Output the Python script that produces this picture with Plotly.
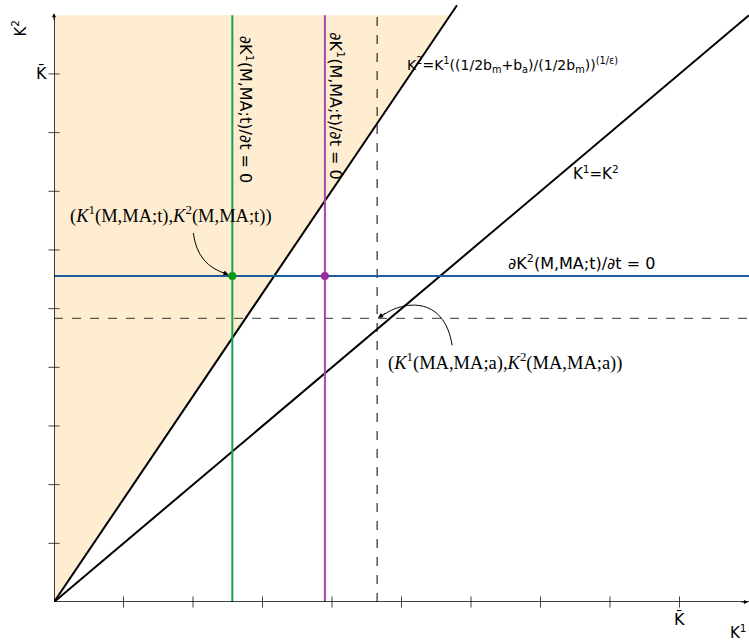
import plotly.graph_objects as go

# ---------------- data ----------------
axis_max = 10.0            # end of both axes (arrow tips)
k_bar = 9                  # position of K-bar on both axes
tick_values = [1, 2, 3, 4, 5, 6, 7, 8, 9]
steep_slope = 1.754        # K2 = K1 * ((1/2bm+ba)/(1/2bm))^(1/eps)
steep_top = 10.17          # the steep line runs off the top
diag_slope = 1.0           # K1 = K2
k1_t_green = 2.566         # dK1(M,MA;t)/dt = 0  (green)
k1_t_purple = 3.898        # dK1(M,MA;t)/dt = 0  (purple)
k2_t = 5.556               # dK2(M,MA;t)/dt = 0  (blue)
k1_a = 4.649               # K1(MA,MA;a) dashed vertical
k2_a = 4.835               # K2(MA,MA;a) dashed horizontal

# ---------------- layout constants ----------------
W, H = 749, 644
ML, MR, MT, MB = 54, 0, 0, 42
x_range = [0, 10.0]
y_range = [0, 10.26]
PW, PH = W - ML - MR, H - MT - MB
sx = PW / (x_range[1] - x_range[0])
sy = PH / (y_range[1] - y_range[0])


def dx(px):
    return px / sx


def dy(py):
    return -py / sy


SANS = "DejaVu Sans"
SERIF = "Liberation Serif"
FILL = "#FEEDD1"
GREEN = "#16A05A"
PURPLE = "#A646B0"
BLUE = "#1F5C9E"

fig = go.Figure()

# shaded region above the steep line
x_fill_top = axis_max / steep_slope
fig.add_shape(type="path",
              path=f"M 0,0 L {x_fill_top},{axis_max} L 0,{axis_max} Z",
              fillcolor=FILL, line=dict(width=0), layer="below")

# dashed guide lines
fig.add_trace(go.Scatter(x=[k1_a, k1_a], y=[0, axis_max], mode="lines",
                         line=dict(color="black", width=1, dash="dash"), hoverinfo="skip"))
fig.add_trace(go.Scatter(x=[0, axis_max], y=[k2_a, k2_a], mode="lines",
                         line=dict(color="#333", width=1, dash="dash"), hoverinfo="skip"))

# steep line and 45 degree line
fig.add_trace(go.Scatter(x=[0, steep_top / steep_slope], y=[0, steep_top], mode="lines",
                         line=dict(color="black", width=2), hoverinfo="skip"))
fig.add_trace(go.Scatter(x=[0, axis_max], y=[0, axis_max * diag_slope], mode="lines",
                         line=dict(color="black", width=2), hoverinfo="skip"))

# isoclines
fig.add_trace(go.Scatter(x=[0, axis_max], y=[k2_t, k2_t], mode="lines",
                         line=dict(color=BLUE, width=2), hoverinfo="skip"))
fig.add_trace(go.Scatter(x=[k1_t_green, k1_t_green], y=[0, axis_max], mode="lines",
                         line=dict(color=GREEN, width=2), hoverinfo="skip"))
fig.add_trace(go.Scatter(x=[k1_t_purple, k1_t_purple], y=[0, axis_max], mode="lines",
                         line=dict(color=PURPLE, width=2), hoverinfo="skip"))

# points
fig.add_trace(go.Scatter(x=[k1_t_green], y=[k2_t], mode="markers",
                         marker=dict(color="#0A9A14", size=8), hoverinfo="skip"))
fig.add_trace(go.Scatter(x=[k1_t_purple], y=[k2_t], mode="markers",
                         marker=dict(color="#9A2C9E", size=8), hoverinfo="skip"))

# axes lines
fig.add_shape(type="line", x0=0, y0=0, x1=0, y1=axis_max, line=dict(color="black", width=1.5))
fig.add_shape(type="line", x0=0, y0=0, x1=axis_max, y1=0, line=dict(color="black", width=1.5))
fig.add_annotation(x=0, y=axis_max + dy(-2), ax=0, ay=8, text="", showarrow=True,
                   arrowhead=2, arrowsize=0.8, arrowwidth=1, arrowcolor="black")
fig.add_annotation(x=axis_max - dx(1), y=0, ax=-8, ay=0, text="", showarrow=True,
                   arrowhead=2, arrowsize=0.8, arrowwidth=1, arrowcolor="black")

# tick marks crossing the axes
fig.add_trace(go.Scatter(x=tick_values, y=[0] * len(tick_values), mode="markers",
                         marker=dict(symbol="line-ns", size=8, line=dict(width=1, color="#444")),
                         hoverinfo="skip", cliponaxis=False))
fig.add_trace(go.Scatter(x=[0] * len(tick_values), y=tick_values, mode="markers",
                         marker=dict(symbol="line-ew", size=8, line=dict(width=1, color="#444")),
                         hoverinfo="skip", cliponaxis=False))

# axis labels (in the margins -> paper references)
fig.add_annotation(xref="paper", yref="paper", x=-46 / PW, y=1 - 18 / PH,
                   text="K<sup>2</sup>", showarrow=False, textangle=-90,
                   font=dict(family=SANS, size=15, color="black"))
fig.add_annotation(xref="paper", yref="y", x=-5 / PW, y=k_bar, text="K\u0304",
                   showarrow=False, xanchor="right",
                   font=dict(family=SANS, size=16, color="black"))
fig.add_annotation(xref="x", yref="paper", x=k_bar, y=-29 / PH, text="K\u0304",
                   showarrow=False, font=dict(family=SANS, size=16, color="black"))
fig.add_annotation(xref="paper", yref="paper", x=1.0, y=-42 / PH, text="K<sup>1</sup>",
                   showarrow=False, xanchor="right",
                   font=dict(family=SANS, size=15, color="black"))

# line labels
fig.add_annotation(x=k1_t_green + dx(14), y=8.40,
                   text="\u2202K<sup>1</sup>(M,MA;t)/\u2202t = 0", showarrow=False, textangle=90,
                   font=dict(family=SANS, size=16, color="black"))
fig.add_annotation(x=k1_t_purple + dx(12), y=8.45,
                   text="\u2202K<sup>1</sup>(M,MA;t)/\u2202t = 0", showarrow=False, textangle=90,
                   font=dict(family=SANS, size=16, color="black"))
fig.add_annotation(x=5.045, y=9.15,
                   text="K<sup>2</sup>=K<sup>1</sup>((1/2b<sub>m</sub>+b<sub>a</sub>)/(1/2b<sub>m</sub>))<sup>(1/\u03b5)</sup>",
                   showarrow=False, xanchor="left",
                   font=dict(family=SANS, size=14, color="black"))
fig.add_annotation(x=7.44, y=7.31, text="K<sup>1</sup>=K<sup>2</sup>", showarrow=False,
                   xanchor="left", font=dict(family=SANS, size=15, color="black"))
fig.add_annotation(x=8.67, y=k2_t + dy(-14), text="\u2202K<sup>2</sup>(M,MA;t)/\u2202t = 0",
                   showarrow=False, xanchor="right", font=dict(family=SANS, size=16, color="black"))

# point labels (serif)
fig.add_annotation(x=0.197, y=6.60,
                   text="(<i>K</i><sup>1</sup>(M,MA;t),<i>K</i><sup>2</sup>(M,MA;t))",
                   showarrow=False, xanchor="left", font=dict(family=SERIF, size=18.5, color="black"))
fig.add_annotation(x=4.78, y=4.10,
                   text="(<i>K</i><sup>1</sup>(MA,MA;a),<i>K</i><sup>2</sup>(MA,MA;a))",
                   showarrow=False, xanchor="left", font=dict(family=SERIF, size=18.5, color="black"))

# curved arrow 1 -> green point
tx, ty = k1_t_green, k2_t
p0 = (tx + dx(-39), ty + dy(-43))
c1 = (tx + dx(-35), ty + dy(-10))
p1 = (tx + dx(-5), ty + dy(-2))
fig.add_shape(type="path", path=f"M {p0[0]},{p0[1]} Q {c1[0]},{c1[1]} {p1[0]},{p1[1]}",
              line=dict(color="black", width=1))
fig.add_annotation(x=tx, y=ty, ax=-11, ay=-4, text="", showarrow=True, standoff=4,
                   arrowhead=2, arrowsize=1, arrowwidth=1, arrowcolor="black")

# curved arrow 2 -> dashed intersection
tx, ty = k1_a, k2_a
q0 = (tx + dx(75), ty + dy(27))
q1 = (tx + dx(67), ty + dy(-24))
q2 = (tx + dx(24), ty + dy(-18))
q3 = (tx + dx(3), ty + dy(-1))
fig.add_shape(type="path",
              path=f"M {q0[0]},{q0[1]} C {q1[0]},{q1[1]} {q2[0]},{q2[1]} {q3[0]},{q3[1]}",
              line=dict(color="black", width=1))
fig.add_annotation(x=tx, y=ty, ax=10, ay=-6, text="", showarrow=True, standoff=1,
                   arrowhead=2, arrowsize=1, arrowwidth=1, arrowcolor="black")

fig.update_layout(
    width=W, height=H,
    margin=dict(l=ML, r=MR, t=MT, b=MB, pad=0),
    plot_bgcolor="white", paper_bgcolor="white",
    showlegend=False,
    xaxis=dict(range=x_range, showgrid=False, zeroline=False, showticklabels=False,
               showline=False, ticks=""),
    yaxis=dict(range=y_range, showgrid=False, zeroline=False, showticklabels=False,
               showline=False, ticks=""),
)

fig.write_html("out.html")
